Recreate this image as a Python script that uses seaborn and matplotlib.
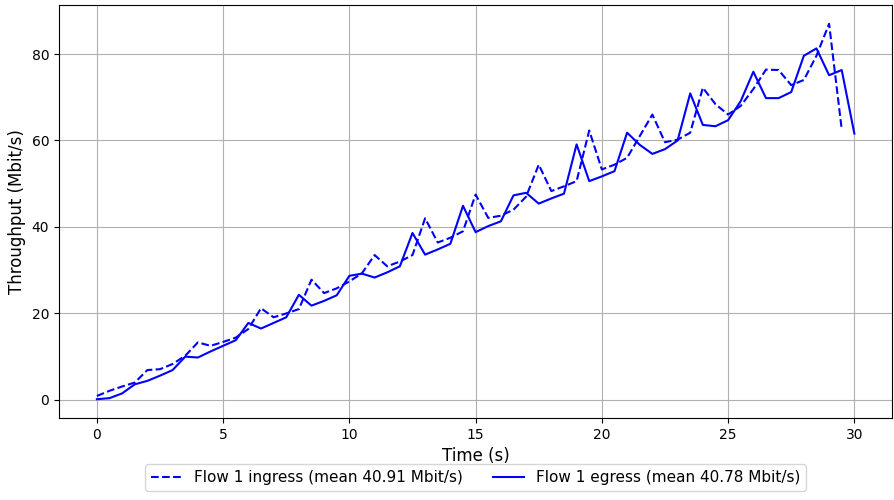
import numpy as np
import pandas as pd
import matplotlib
matplotlib.use('Agg')
import matplotlib.pyplot as plt
import seaborn as sns

# tiempos (s)
t_ingress = [0, 0.5, 1, 1.5, 2, 2.5, 3, 3.5, 4, 4.5, 5, 5.5, 6, 6.5, 7, 7.5, 8, 8.5, 9, 9.5,
             10, 10.5, 11, 11.5, 12, 12.5, 13, 13.5, 14, 14.5, 15, 15.5, 16, 16.5, 17, 17.5,
             18, 18.5, 19, 19.5, 20, 20.5, 21, 21.5, 22, 22.5, 23, 23.5, 24, 24.5, 25, 25.5,
             26, 26.5, 27, 27.5, 28, 28.5, 29, 29.5]
ingress = [0.9, 2.1, 3.1, 4.0, 6.9, 7.1, 8.3, 10.2, 13.3, 12.5, 13.4, 14.4, 16.4, 21.2, 19.1, 20.0,
           21.0, 27.8, 24.7, 25.8, 27.4, 29.3, 33.5, 30.9, 32.0, 33.5, 42.0, 36.4, 37.5, 39.0,
           47.5, 42.1, 42.6, 44.0, 47.0, 54.4, 48.3, 49.4, 50.6, 62.3, 53.3, 54.4, 56.0, 61.0,
           66.0, 59.6, 60.2, 61.8, 72.2, 68.4, 66.0, 68.0, 71.9, 76.4, 76.3, 72.8, 74.0, 79.6,
           87.0, 62.6]

t_egress = t_ingress + [30]
egress = [0.15, 0.4, 1.5, 3.6, 4.4, 5.6, 6.9, 10.0, 9.8, 11.2, 12.5, 13.8, 17.8, 16.5, 17.8, 19.1,
          24.3, 21.8, 22.9, 24.2, 28.7, 29.2, 28.3, 29.5, 30.9, 38.6, 33.6, 34.8, 36.1, 44.9,
          38.8, 40.2, 41.3, 47.3, 47.9, 45.4, 46.6, 47.7, 59.1, 50.6, 51.7, 52.9, 61.8, 59.0,
          56.9, 58.0, 60.0, 70.9, 63.6, 63.3, 64.7, 69.1, 75.9, 69.8, 69.8, 71.2, 79.6, 81.3,
          75.1, 76.3, 61.6]

etiqueta_in = 'Flow 1 ingress (mean 40.91 Mbit/s)'
etiqueta_out = 'Flow 1 egress (mean 40.78 Mbit/s)'

datos_in = pd.DataFrame({'t': t_ingress, 'v': ingress})
datos_out = pd.DataFrame({'t': t_egress, 'v': egress})

fig, ax = plt.subplots(figsize=(8.94, 5), dpi=100)
fig.subplots_adjust(left=0.066, right=0.998, top=0.99, bottom=0.164)

sns.lineplot(data=datos_in, x='t', y='v', ax=ax, color='blue', linestyle='--',
             label=etiqueta_in)
sns.lineplot(data=datos_out, x='t', y='v', ax=ax, color='blue', label=etiqueta_out)

ax.grid(True)
ax.set_xlabel('Time (s)', fontsize=12)
ax.set_ylabel('Throughput (Mbit/s)', fontsize=12)
ax.legend(loc='upper center', bbox_to_anchor=(0.5, -0.093), ncol=2, fontsize=11)

plt.savefig('out.png', dpi=100)
